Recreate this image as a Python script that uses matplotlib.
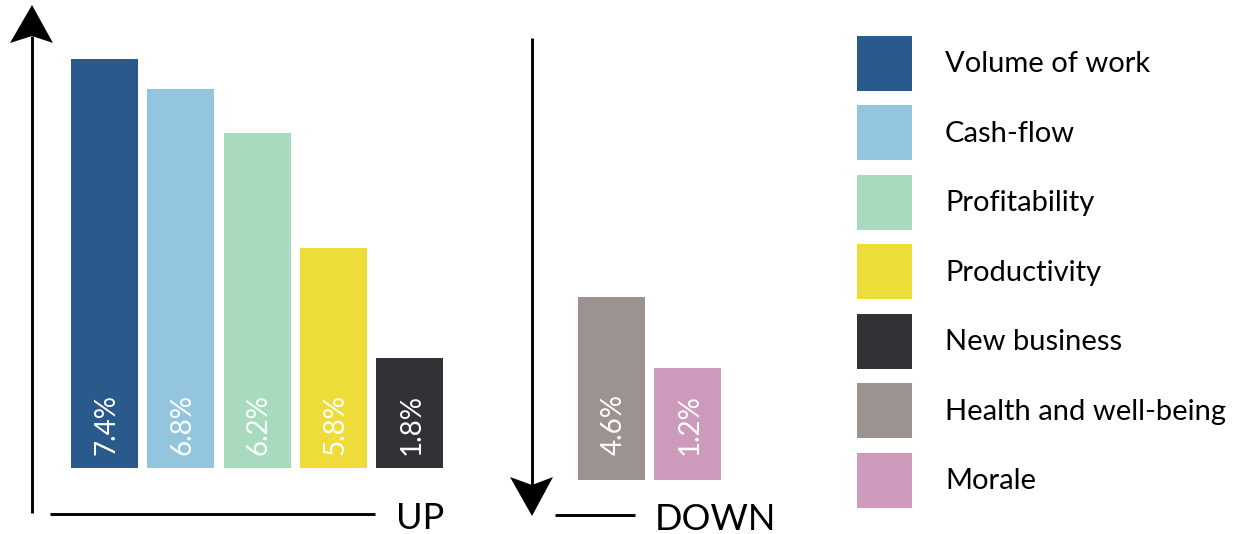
import matplotlib
matplotlib.use("Agg")
import matplotlib.pyplot as plt
from matplotlib.patches import Polygon
from matplotlib.lines import Line2D

plt.rcParams['font.family'] = ['Lato', 'DejaVu Sans']

# data
up_labels = ["Volume of work", "Cash-flow", "Profitability", "Productivity", "New business"]
up_pct = [7.4, 6.8, 6.2, 5.8, 1.8]
# bar heights as drawn in the graphic (not to scale with the printed values)
up_drawn = [7.4, 6.86, 6.06, 3.98, 1.99]
up_colors = ["#2a598b", "#93c5de", "#a8dabd", "#eedc3a", "#313236"]

down_labels = ["Health and well-being", "Morale"]
down_pct = [4.6, 1.2]
down_drawn = [3.31, 2.03]
down_colors = ["#9c9391", "#ce9abb"]

W, H = 1236, 534
fig = plt.figure(figsize=(W / 100, H / 100), dpi=100)


def fx(x):
    return x / W


def fy(y):
    return 1 - y / H


ppu = 409 / max(up_drawn)  # pixels per drawn unit
bar_w = 67 / 76.25


def bar_axes(left, bottom, n, top_val):
    width = (n - 1 + bar_w) * 76.25
    height = top_val * ppu
    ax = fig.add_axes([fx(left), fy(bottom), width / W, height / H])
    ax.set_xlim(-bar_w / 2, n - 1 + bar_w / 2)
    ax.set_ylim(0, top_val)
    ax.axis('off')
    return ax


ax_up = bar_axes(71, 468, len(up_drawn), max(up_drawn))
up_bars = ax_up.bar(range(len(up_drawn)), up_drawn, width=bar_w, color=up_colors)
for i, v in enumerate(up_pct):
    ax_up.annotate(f"{v}%", (i, 0), xytext=(2, 13), textcoords='offset pixels',
                   rotation=90, ha='center', va='bottom', color='white',
                   fontsize=20)

ax_dn = bar_axes(578, 480, len(down_drawn), max(down_drawn))
dn_bars = ax_dn.bar(range(len(down_drawn)), down_drawn, width=bar_w, color=down_colors)
for i, v in enumerate(down_pct):
    ax_dn.annotate(f"{v}%", (i, 0), xytext=(2, 25), textcoords='offset pixels',
                   rotation=90, ha='center', va='bottom', color='white',
                   fontsize=20)


# arrows and baselines
def line(x0, y0, x1, y1):
    fig.add_artist(Line2D([fx(x0), fx(x1)], [fy(y0), fy(y1)], color='black',
                          lw=2.1, solid_capstyle='butt'))


def head(x, tip, back, notch):
    pts = [(fx(x), fy(tip)), (fx(x - 22), fy(back)), (fx(x), fy(notch)),
           (fx(x + 21), fy(back))]
    fig.add_artist(Polygon(pts, closed=True, facecolor='black', edgecolor='none'))


line(32, 36, 32, 513)
head(32, 5, 43, 36)
line(50, 514, 375, 514)
fig.text(fx(396), fy(529), "UP", fontsize=26, va='baseline', ha='left')

line(532, 38, 532, 486)
head(532, 516, 477, 485)
line(555, 515, 635, 515)
fig.text(fx(655), fy(530), "DOWN", fontsize=26, va='baseline', ha='left')

# legend
fs = 21
fpx = fs * 100 / 72
hh = (55 / fpx - 0.245) / 0.65
fig.legend(list(up_bars.patches) + list(dn_bars.patches), up_labels + down_labels,
           loc='upper left', bbox_to_anchor=(fx(857), fy(36)), frameon=False,
           fontsize=fs, handlelength=55 / fpx, handleheight=hh,
           labelspacing=14.5 / fpx, handletextpad=33 / fpx,
           borderpad=0, borderaxespad=0)

fig.savefig("out.png", dpi=100)
